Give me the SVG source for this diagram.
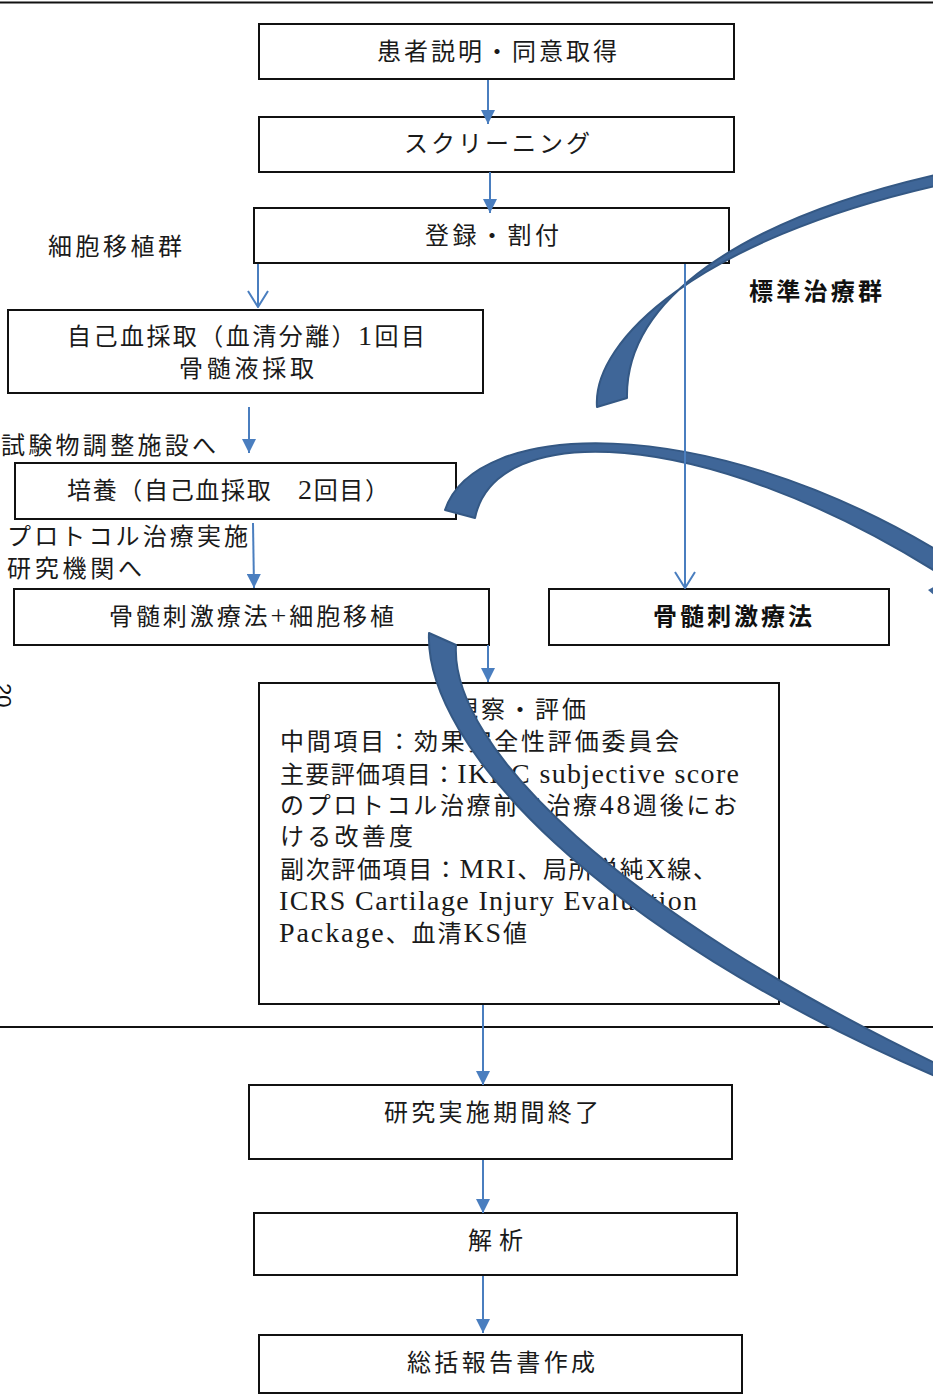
<svg xmlns="http://www.w3.org/2000/svg" width="933" height="1397" viewBox="0 0 933 1397">
<defs>
<style>
.box{fill:#fff;stroke:#111;stroke-width:2}
.t{font-family:"Noto Sans CJK JP","Noto Sans CJK SC",sans-serif;font-size:24px;fill:#1a1a1a}
.m{font-family:"Liberation Serif","Noto Sans CJK JP",serif;font-size:24px;fill:#1a1a1a}
.L{font-family:"Liberation Serif",serif;font-size:28px}
.b{font-family:"Noto Sans CJK JP",sans-serif;font-size:24px;font-weight:bold;fill:#111}
.c{stroke:#4A7EBF;stroke-width:2;fill:none}
.band{fill:#3F6698;stroke:#345884;stroke-width:2;stroke-linejoin:round}
.rule{stroke:#111;stroke-width:2}
</style>
<marker id="ah" viewBox="0 0 10 10" refX="10" refY="5" markerUnits="userSpaceOnUse" markerWidth="15" markerHeight="14" orient="auto">
<path d="M0,0 L10,5 L0,10 z" fill="#4A7EBF"/>
</marker>
<marker id="av" viewBox="-1 -1 18 22" refX="16" refY="10" markerUnits="userSpaceOnUse" markerWidth="18" markerHeight="22" orient="auto">
<path d="M0,0 L16,10 L0,20" fill="none" stroke="#4A7EBF" stroke-width="2"/>
</marker>
</defs>
<rect width="933" height="1397" fill="#fff"/>
<line class="rule" x1="0" y1="2.5" x2="933" y2="2.5" stroke-width="2.5"/>
<line class="rule" x1="0" y1="1027" x2="933" y2="1027"/>

<text transform="translate(-4,683) rotate(90)" font-family="Liberation Sans, sans-serif" font-size="22" fill="#111">20</text>

<g id="n-consent"><rect class="box" x="259" y="24" width="475" height="55"/><text class="t" x="377" y="60" textLength="240" lengthAdjust="spacing">患者説明・同意取得</text></g>
<g id="n-screening"><rect class="box" x="259" y="117" width="475" height="55"/><text class="t" x="404" y="152" textLength="186" lengthAdjust="spacing">スクリーニング</text></g>
<g id="n-register"><rect class="box" x="254" y="208" width="475" height="55"/><text class="t" x="425" y="244" textLength="134" lengthAdjust="spacing">登録・割付</text></g>
<g id="l-cell"><text class="t" x="48" y="255" textLength="134" lengthAdjust="spacing">細胞移植群</text></g>
<g id="l-std"><text class="b" x="749" y="300" textLength="133" lengthAdjust="spacing">標準治療群</text></g>
<g id="n-blood1"><rect class="box" x="8" y="310" width="475" height="83"/><text class="m" x="67" y="345" textLength="358" lengthAdjust="spacing">自己血採取（血清分離）<tspan class="L">1</tspan>回目</text><text class="t" x="179" y="377" textLength="135" lengthAdjust="spacing">骨髄液採取</text></g>
<g id="l-facility"><text class="t" x="1" y="454" textLength="215" lengthAdjust="spacing">試験物調整施設へ</text></g>
<g id="n-culture"><rect class="box" x="15" y="463" width="441" height="56"/><text class="m" x="67" y="499" textLength="322" lengthAdjust="spacing">培養（自己血採取　<tspan class="L">2</tspan>回目）</text></g>
<g id="l-protocol"><text class="t" x="7" y="545" textLength="241" lengthAdjust="spacing">プロトコル治療実施</text><text class="t" x="7" y="577" textLength="135" lengthAdjust="spacing">研究機関へ</text></g>
<g id="n-bms-cell"><rect class="box" x="14" y="589" width="475" height="56"/><text class="m" x="109" y="625" textLength="285" lengthAdjust="spacing">骨髄刺激療法<tspan class="L">+</tspan>細胞移植</text></g>
<g id="n-bms"><rect class="box" x="549" y="589" width="340" height="56" stroke-width="1.5"/><text class="b" x="653" y="625" textLength="159" lengthAdjust="spacing">骨髄刺激療法</text></g>
<g id="n-eval"><rect class="box" x="259" y="683" width="520" height="321"/>
<text class="t" x="454" y="718" textLength="132" lengthAdjust="spacing">観察・評価</text>
<text class="t" x="280" y="750" textLength="399" lengthAdjust="spacing">中間項目：効果安全性評価委員会</text>
<text class="m" x="280" y="783" textLength="459" lengthAdjust="spacing">主要評価項目：<tspan class="L">IKDC subjective score</tspan></text>
<text class="m" x="280" y="814" textLength="457" lengthAdjust="spacing">のプロトコル治療前と治療<tspan class="L">48</tspan>週後にお</text>
<text class="t" x="280" y="845" textLength="133" lengthAdjust="spacing">ける改善度</text>
<text class="m" x="280" y="878" textLength="437" lengthAdjust="spacing">副次評価項目：<tspan class="L">MRI</tspan>、局所単純<tspan class="L">X</tspan>線、</text>
<text class="m L" x="279" y="910" textLength="418" lengthAdjust="spacing">ICRS Cartilage Injury Evaluation</text>
<text class="m" x="279" y="942" textLength="248" lengthAdjust="spacing"><tspan class="L">Package</tspan>、血清<tspan class="L">KS</tspan>値</text>
</g>
<g id="n-end"><rect class="box" x="249" y="1085" width="483" height="74"/><text class="t" x="384" y="1121" textLength="215" lengthAdjust="spacing">研究実施期間終了</text></g>
<g id="n-analysis"><rect class="box" x="254" y="1213" width="483" height="62"/><text class="t" x="468" y="1249" textLength="55" lengthAdjust="spacing">解析</text></g>
<g id="n-report"><rect class="box" x="259" y="1335" width="483" height="58"/><text class="t" x="407" y="1371" textLength="188" lengthAdjust="spacing">総括報告書作成</text></g>

<g id="connectors">
<g id="curved-arrows">
<path class="band" d="M597,407 C592,340 700,240 935,186 L935,175 C740,220 625,300 627,398 Z"/>
<path class="band" d="M445,510 C475,420 700,410 935,549 L935,571 C700,425 495,420 475,518 Z"/>
<path class="band" d="M429,633 C424,745 600,932 935,1076 L935,1063 C622,912 450,748 456,645 Z"/>
<path d="M928,590 L935,586 L935,596 Z" fill="#3F6698"/>
</g>
<line class="c" x1="488" y1="80" x2="488" y2="124" marker-end="url(#ah)"/>
<line class="c" x1="490" y1="172" x2="490" y2="213" marker-end="url(#ah)"/>
<line class="c" x1="258" y1="264" x2="258" y2="307" marker-end="url(#av)"/>
<line class="c" x1="685" y1="264" x2="685" y2="588" marker-end="url(#av)"/>
<line class="c" x1="249" y1="407" x2="249" y2="453" marker-end="url(#ah)"/>
<line class="c" x1="253" y1="523" x2="254" y2="588" marker-end="url(#ah)"/>
<line class="c" x1="488" y1="645" x2="488" y2="682" marker-end="url(#ah)"/>
<line class="c" x1="483" y1="1005" x2="483" y2="1085" marker-end="url(#ah)"/>
<line class="c" x1="483" y1="1160" x2="483" y2="1213" marker-end="url(#ah)"/>
<line class="c" x1="483" y1="1276" x2="483" y2="1333" marker-end="url(#ah)"/>
</g>
</svg>
